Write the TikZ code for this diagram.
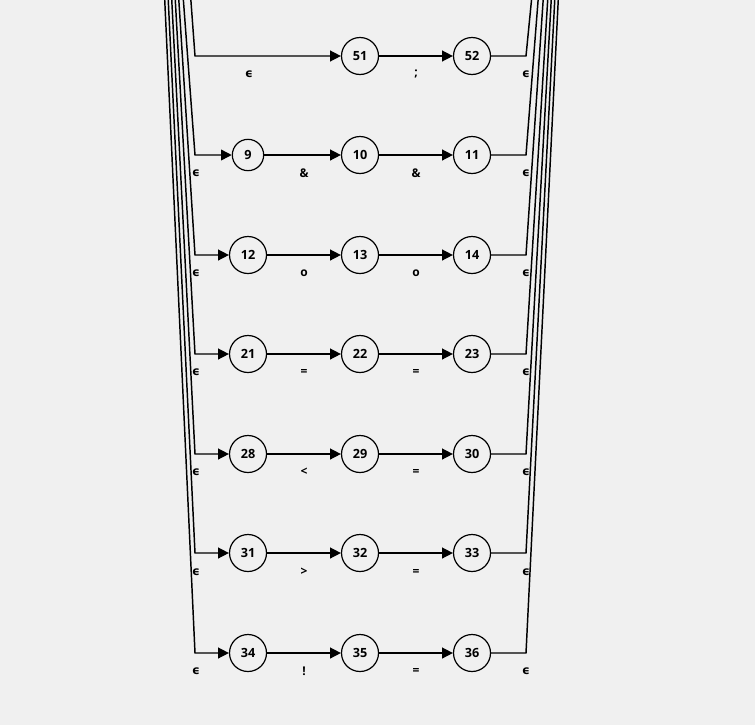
\documentclass[tikz,border=0pt]{standalone}
\usepackage{fontspec}
\setmainfont{Open Sans}
\newfontfamily\epsfont{DejaVu Sans}
\usetikzlibrary{arrows.meta}
\definecolor{bg}{HTML}{F0F0F0}
\begin{document}
\begin{tikzpicture}[x=0.75pt,y=-0.75pt,
  st/.style={circle,draw,line width=0.9pt,minimum size=27.75pt,inner sep=0pt,font=\bfseries\fontsize{9.5}{10}\selectfont},
  stsmall/.style={st,minimum size=23.5pt},
  conn/.style={line width=1.1pt},
  arr/.style={conn,-{Triangle[length=8pt,width=8pt]}},
  lab/.style={font=\bfseries\fontsize{9}{10}\selectfont,inner sep=0pt},
  elab/.style={font=\epsfont\bfseries\fontsize{9}{10}\selectfont,inner sep=0pt}]
\fill[bg] (0,0) rectangle (755,725);
\useasboundingbox (0,0) rectangle (755,725);
\clip (0,0) rectangle (755,725);
% nodes
\node[st] (n51) at (360,56) {51};
\node[st] (n52) at (472,56) {52};
\node[stsmall] (n9) at (248,155) {9};
\node[st] (n10) at (360,155) {10};
\node[st] (n11) at (472,155) {11};
\node[st] (n12) at (248,255) {12};
\node[st] (n13) at (360,255) {13};
\node[st] (n14) at (472,255) {14};
\node[st] (n21) at (248,354) {21};
\node[st] (n22) at (360,354) {22};
\node[st] (n23) at (472,354) {23};
\node[st] (n28) at (248,454) {28};
\node[st] (n29) at (360,454) {29};
\node[st] (n30) at (472,454) {30};
\node[st] (n31) at (248,553) {31};
\node[st] (n32) at (360,553) {32};
\node[st] (n33) at (472,553) {33};
\node[st] (n34) at (248,653) {34};
\node[st] (n35) at (360,653) {35};
\node[st] (n36) at (472,653) {36};
% corner coordinates
\coordinate (T1) at (190.5,-5); \coordinate (L1) at (195,56);
\coordinate (T2) at (183,-5); \coordinate (L2) at (195,155);
\coordinate (T3) at (178.5,-5); \coordinate (L3) at (195,255);
\coordinate (T4) at (175,-5); \coordinate (L4) at (195,354);
\coordinate (T5) at (171.5,-5); \coordinate (L5) at (195,454);
\coordinate (T6) at (168,-5); \coordinate (L6) at (195,553);
\coordinate (T7) at (164.5,-5); \coordinate (L7) at (195,653);
\coordinate (U1) at (532,-5); \coordinate (R1) at (526,56);
\coordinate (U2) at (538.5,-5); \coordinate (R2) at (526,155);
\coordinate (U3) at (543.5,-5); \coordinate (R3) at (526,255);
\coordinate (U4) at (548,-5); \coordinate (R4) at (526,354);
\coordinate (U5) at (551.5,-5); \coordinate (R5) at (526,454);
\coordinate (U6) at (555,-5); \coordinate (R6) at (526,553);
\coordinate (U7) at (558.5,-5); \coordinate (R7) at (526,653);
% left connectors
\draw[arr] (T1) -- (L1) -- (n51);
\draw[arr] (T2) -- (L2) -- (n9);
\draw[arr] (T3) -- (L3) -- (n12);
\draw[arr] (T4) -- (L4) -- (n21);
\draw[arr] (T5) -- (L5) -- (n28);
\draw[arr] (T6) -- (L6) -- (n31);
\draw[arr] (T7) -- (L7) -- (n34);
% middle connectors
\draw[arr] (n51) -- (n52);
\draw[arr] (n9) -- (n10);  \draw[arr] (n10) -- (n11);
\draw[arr] (n12) -- (n13); \draw[arr] (n13) -- (n14);
\draw[arr] (n21) -- (n22); \draw[arr] (n22) -- (n23);
\draw[arr] (n28) -- (n29); \draw[arr] (n29) -- (n30);
\draw[arr] (n31) -- (n32); \draw[arr] (n32) -- (n33);
\draw[arr] (n34) -- (n35); \draw[arr] (n35) -- (n36);
% right connectors
\draw[conn] (n52) -- (R1) -- (U1);
\draw[conn] (n11) -- (R2) -- (U2);
\draw[conn] (n14) -- (R3) -- (U3);
\draw[conn] (n23) -- (R4) -- (U4);
\draw[conn] (n30) -- (R5) -- (U5);
\draw[conn] (n33) -- (R6) -- (U6);
\draw[conn] (n36) -- (R7) -- (U7);
% labels
\node[elab] (e1) at (249,74) {ϵ};
\node[lab] (s1) at (416,74) {;};
\node[elab] (e1r) at (526,74) {ϵ};
\node[elab] (e2) at (196,173) {ϵ};
\node[lab] (a2) at (304,173) {\&};
\node[lab] (b2) at (416,173) {\&};
\node[elab] (e2r) at (526,173) {ϵ};
\node[elab] (e3) at (196,273) {ϵ};
\node[lab] (a3) at (304,273) {o};
\node[lab] (b3) at (416,273) {o};
\node[elab] (e3r) at (526,273) {ϵ};
\node[elab] (e4) at (196,372) {ϵ};
\node[lab] (a4) at (304,372) {=};
\node[lab] (b4) at (416,372) {=};
\node[elab] (e4r) at (526,372) {ϵ};
\node[elab] (e5) at (196,472) {ϵ};
\node[lab] (a5) at (304,472) {<};
\node[lab] (b5) at (416,472) {=};
\node[elab] (e5r) at (526,472) {ϵ};
\node[elab] (e6) at (196,572) {ϵ};
\node[lab] (a6) at (304,572) {>};
\node[lab] (b6) at (416,572) {=};
\node[elab] (e6r) at (526,572) {ϵ};
\node[elab] (e7) at (196,671) {ϵ};
\node[lab] (a7) at (304,671) {!};
\node[lab] (b7) at (416,671) {=};
\node[elab] (e7r) at (526,671) {ϵ};
\end{tikzpicture}
\end{document}
